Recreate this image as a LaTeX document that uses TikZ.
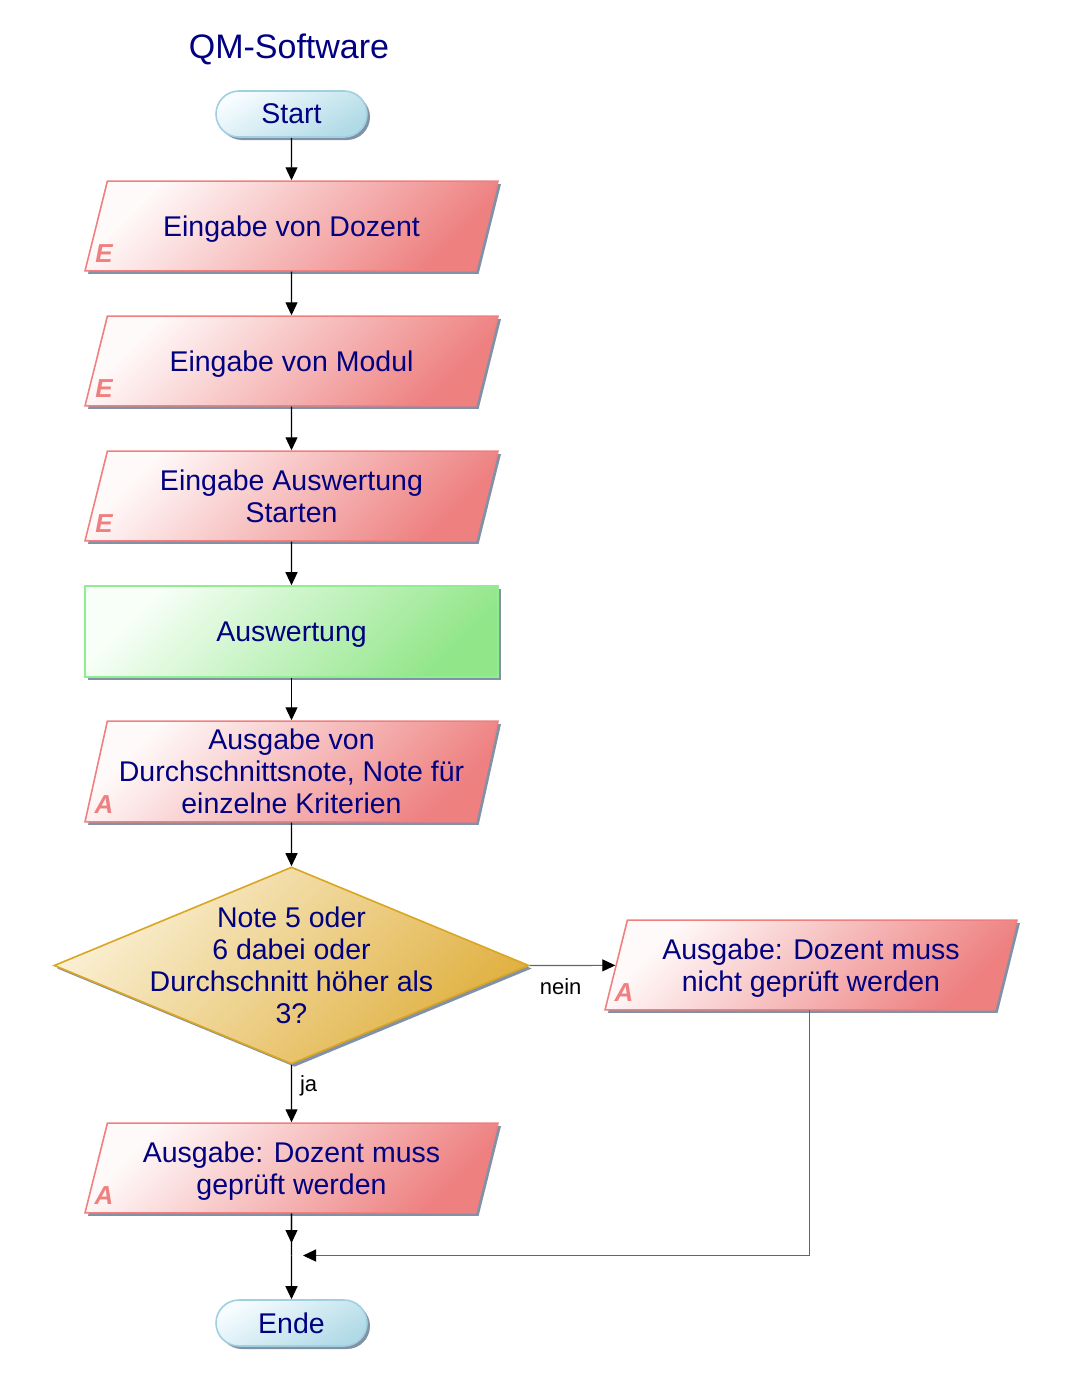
\documentclass[tikz,border=0pt]{standalone}
\usepackage{fontspec}
\setmainfont{Liberation Sans}
\usetikzlibrary{shapes.geometric,shapes.misc,arrows.meta,shadows}
\definecolor{textc}{RGB}{0,0,128}
\definecolor{pinkline}{RGB}{240,128,128}
\definecolor{pinkdark}{RGB}{238,128,128}
\definecolor{pinklight}{RGB}{255,250,250}
\definecolor{greenline}{RGB}{144,238,144}
\definecolor{greendark}{RGB}{146,230,138}
\definecolor{greenlight}{RGB}{248,255,248}
\definecolor{blueline}{RGB}{160,208,224}
\definecolor{bluedark}{RGB}{176,218,230}
\definecolor{bluelight}{RGB}{246,252,255}
\definecolor{goldline}{RGB}{218,165,32}
\definecolor{golddark}{RGB}{224,176,64}
\definecolor{goldlight}{RGB}{250,240,212}
\definecolor{shadowc}{RGB}{130,145,165}
\definecolor{linegray}{RGB}{100,100,100}
\tikzset{
  shp/.style={line width=1.6pt, font=\fontsize{28.5}{32}\selectfont, text=textc, align=center, inner sep=0pt, text depth=0pt,
    drop shadow={shadow xshift=3pt, shadow yshift=-3pt, fill=shadowc, opacity=1}},
  io/.style={shp, trapezium, trapezium left angle=76, trapezium right angle=104, trapezium stretches body=true,
    minimum width=413pt, draw=pinkline, top color=pinklight, bottom color=pinkdark, shading angle=45},
  ioone/.style={io, inner ysep=34.6pt},
  iotwo/.style={io, inner ysep=18.6pt},
  iothree/.style={io, inner ysep=8.1pt, trapezium left angle=77.5, trapezium right angle=102.5},
  iolbl/.style={anchor=center, xshift=20pt, yshift=18pt, font=\fontsize{26}{26}\selectfont\bfseries\itshape, text=pinkline, inner sep=0pt},
  proc/.style={shp, rectangle, minimum width=413pt, minimum height=91pt, draw=greenline, top color=greenlight, bottom color=greendark, shading angle=45},
  term/.style={shp, rounded rectangle, minimum width=151pt, minimum height=46pt, draw=blueline, top color=bluelight, bottom color=bluedark, shading angle=30},
  dec/.style={shp, diamond, minimum width=475pt, minimum height=197pt, draw=goldline, top color=goldlight, bottom color=golddark, shading angle=45},
  dtext/.style={anchor=center, align=center, font=\fontsize{28.5}{32}\selectfont, text=textc},
  ttl/.style={font=\fontsize{34}{36}\selectfont, text=textc},
  arr/.style={line width=1.2pt, -{Triangle[length=13pt,width=12pt,color=black]}},
  conn/.style={line width=1.2pt},
  lbl/.style={font=\fontsize{22}{24}\selectfont, text=black, inner sep=3pt}
}
\begin{document}
\begin{tikzpicture}[x=1pt,y=-1pt]
\useasboundingbox (0,0) rectangle (1068,1389);
\node[ttl] (title) at (289,49) {QM-Software};
\node[term] (start) at (291.5,114) {Start};
\node[ioone] (p1) at (291.5,226) {Eingabe von Dozent};
\node[ioone] (p2) at (291.5,361) {Eingabe von Modul};
\node[iotwo] (p3) at (291.5,496) {Eingabe Auswertung\\Starten};
\node[proc] (aus) at (291.5,631.5) {Auswertung};
\node[iothree] (p5) at (291.5,771.5) {Ausgabe von\\Durchschnittsnote, Note für\\einzelne Kriterien};
\node[dec, label={[dtext]center:Note 5 oder\\6 dabei oder\\Durchschnitt höher als\\3?}] (d) at (291.5,965.5) {};
\node[iotwo, minimum width=412pt] (p8) at (811,965) {Ausgabe: Dozent muss\\nicht geprüft werden};
\node[iotwo] (p7) at (291.5,1168) {Ausgabe: Dozent muss\\geprüft werden};
\node[term] (ende) at (291.5,1323) {Ende};
\node[iolbl] (e1) at (p1.bottom left corner) {E};
\node[iolbl] (e2) at (p2.bottom left corner) {E};
\node[iolbl] (e3) at (p3.bottom left corner) {E};
\node[iolbl] (a5) at (p5.bottom left corner) {A};
\node[iolbl] (a8) at (p8.bottom left corner) {A};
\node[iolbl] (a7) at (p7.bottom left corner) {A};
\coordinate (j) at (291.5,1255.5);
\coordinate (ja) at (291.5,1243);
\coordinate (jr) at (303,1255.5);
\coordinate (p8b) at (809.5,1010);

\draw[arr] (start) -- (p1);
\draw[arr] (p1) -- (p2);
\draw[arr] (p2) -- (p3);
\draw[arr] (p3) -- (aus);
\draw[arr] (aus) -- (p5);
\draw[arr] (p5) -- (d);
\draw[arr] (d.south) -- node[lbl, pos=0.36, right=5pt] {ja} (p7.north);
\draw[arr, draw=linegray] (d.east) -- node[lbl, pos=0.36, below=10pt] {nein} (p8);
\draw[conn] (p7.south) -- (j);
\draw[arr] (p7.south) -- (ja);
\draw[arr] (j) -- (ende);
\draw[arr, draw=linegray] (p8b) |- (jr);
\end{tikzpicture}
\end{document}
